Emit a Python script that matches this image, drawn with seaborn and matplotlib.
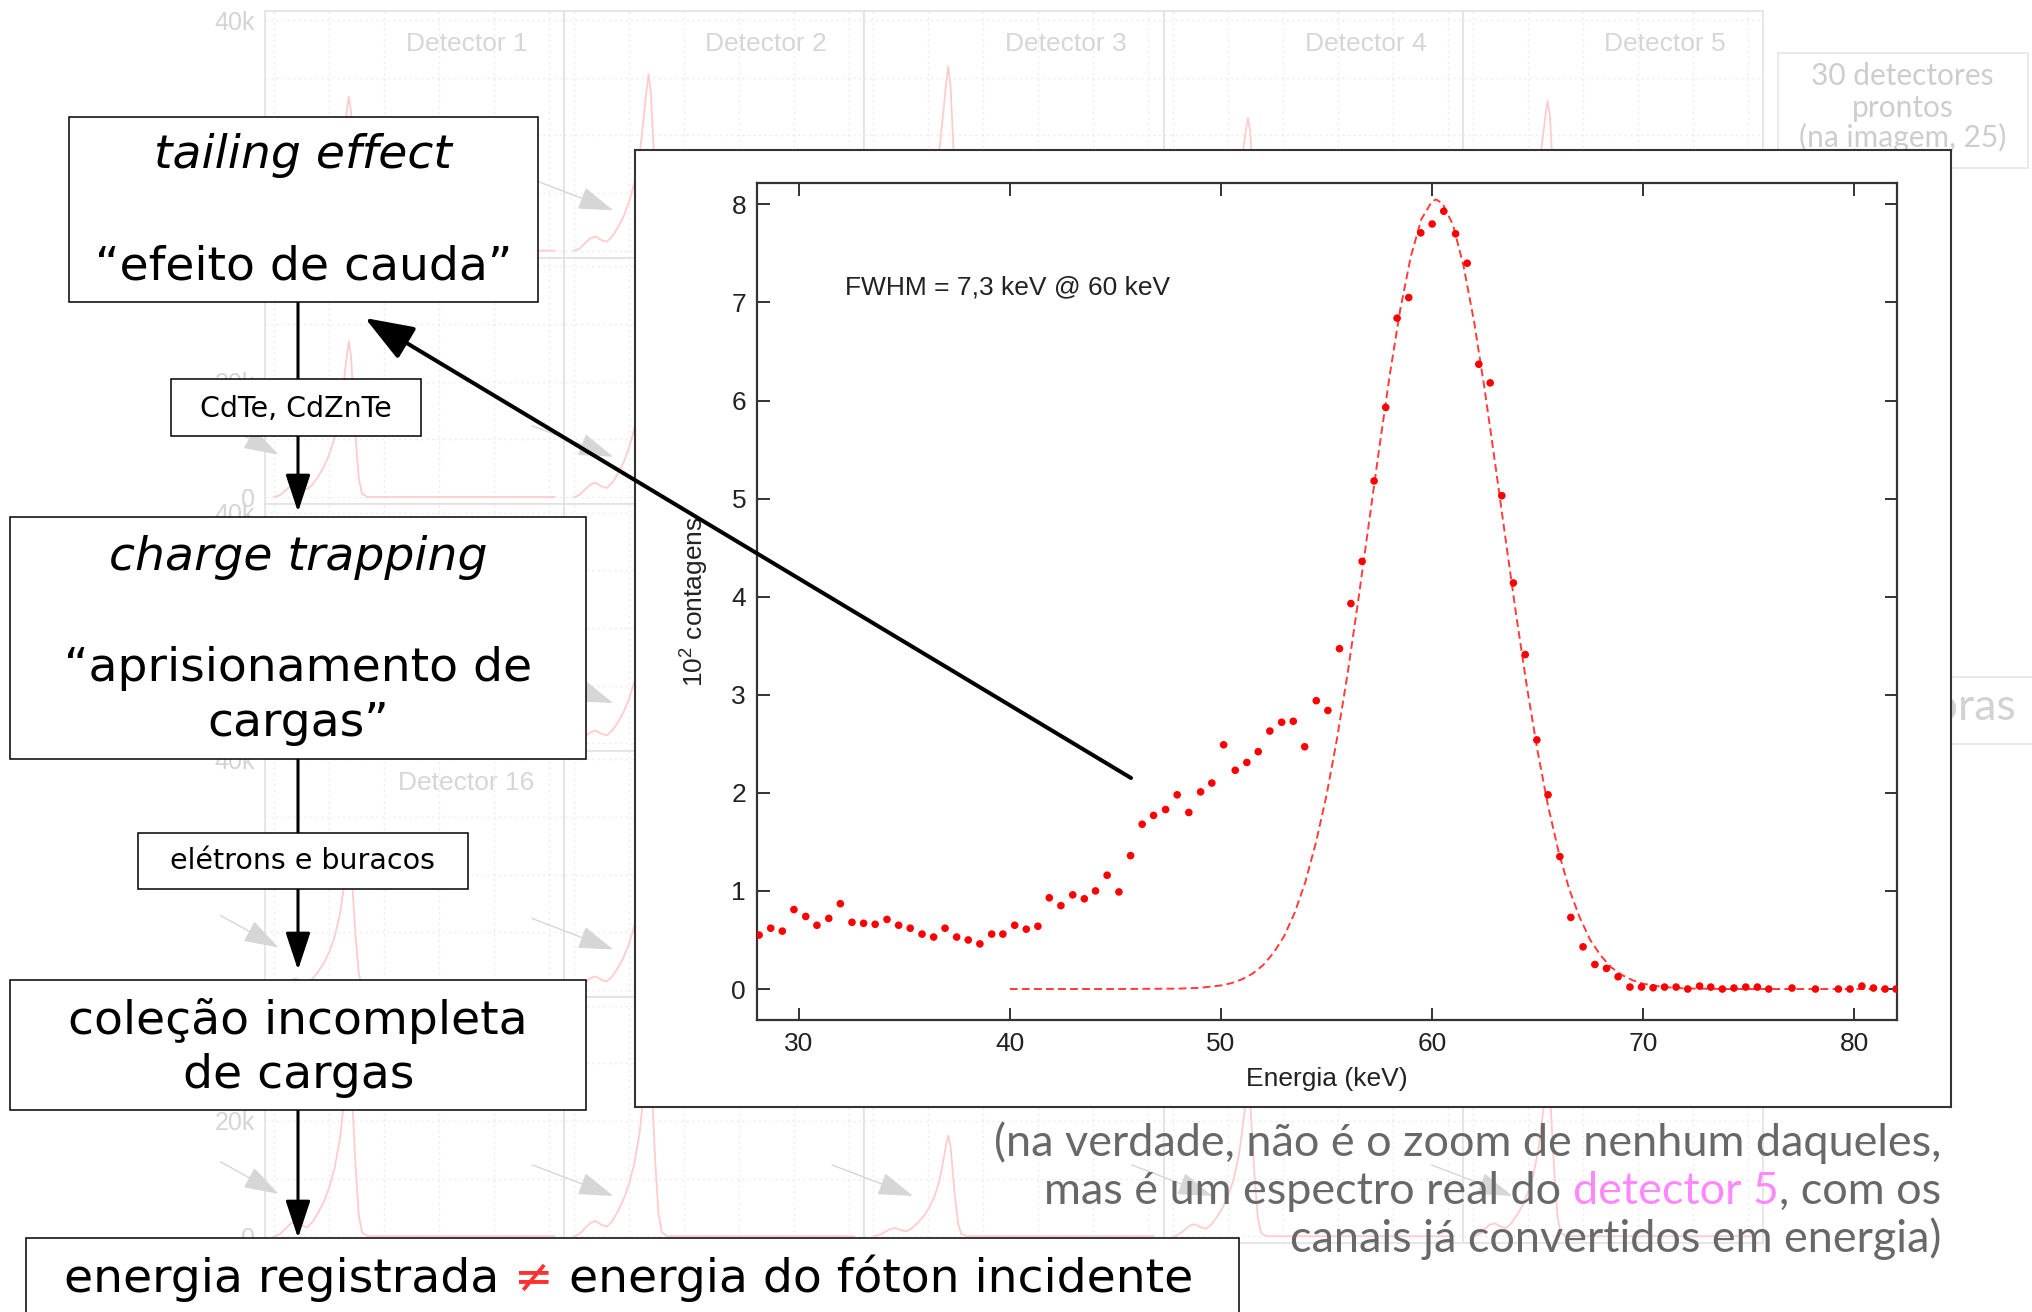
import numpy as np
import pandas as pd
import matplotlib
matplotlib.use("Agg")
import matplotlib.pyplot as plt
from matplotlib.patches import Rectangle
import seaborn as sns

# ---------------- data ----------------
energy_kev = [28.12, 28.67, 29.22, 29.77, 30.33, 30.86, 31.42, 31.97, 32.52, 33.07,
              33.62, 34.18, 34.73, 35.28, 35.84, 36.39, 36.93, 37.48, 38.03, 38.58,
              39.14, 39.67, 40.23, 40.78, 41.33, 41.87, 42.42, 42.98, 43.53, 44.06,
              44.61, 45.17, 45.72, 46.27, 46.81, 47.38, 47.93, 48.48, 49.04, 49.57,
              50.13, 50.68, 51.23, 51.77, 52.32, 52.88, 53.43, 53.97, 54.52, 55.07,
              55.62, 56.16, 56.69, 57.26, 57.81, 58.35, 58.90, 59.47, 60.01, 60.56,
              61.12, 61.67, 62.22, 62.76, 63.31, 63.86, 64.42, 64.97, 65.50, 66.06,
              66.58, 67.16, 67.72, 68.27, 68.82, 69.38, 69.93, 70.48, 71.02, 71.57,
              72.12, 72.68, 73.21, 73.76, 74.31, 74.87, 75.42, 75.96, 77.06, 78.17,
              79.26, 79.81, 80.37, 80.92, 81.47, 81.99]
counts_1e2 = [0.55, 0.62, 0.59, 0.81, 0.74, 0.65, 0.72, 0.87, 0.68, 0.67,
              0.66, 0.71, 0.65, 0.62, 0.56, 0.53, 0.62, 0.53, 0.50, 0.46,
              0.56, 0.56, 0.65, 0.61, 0.64, 0.93, 0.85, 0.96, 0.92, 1.00,
              1.16, 0.99, 1.36, 1.68, 1.77, 1.83, 1.98, 1.80, 2.01, 2.10,
              2.49, 2.23, 2.31, 2.42, 2.63, 2.72, 2.73, 2.47, 2.94, 2.84,
              3.47, 3.93, 4.36, 5.18, 5.93, 6.84, 7.05, 7.71, 7.80, 7.93,
              7.70, 7.40, 6.37, 6.18, 5.03, 4.14, 3.41, 2.54, 1.98, 1.35,
              0.73, 0.43, 0.25, 0.21, 0.125, 0.02, 0.02, 0.013, 0.02, 0.02,
              0.0, 0.03, 0.02, 0.0, 0.01, 0.02, 0.02, 0.0, 0.01, 0.0,
              0.0, 0.0, 0.03, 0.01, 0.0, 0.0]

fit_energy_kev = [40, 45, 48, 49, 50, 50.5, 51, 51.5, 52, 52.5,
                  53, 53.5, 54, 54.5, 55, 55.5, 56, 56.5, 57, 57.5,
                  58, 58.5, 59, 59.5, 60, 60.2, 60.5, 61, 61.5, 62,
                  62.5, 63, 63.5, 64, 64.5, 65, 65.5, 66, 66.5, 67,
                  67.5, 68, 68.5, 69, 69.5, 70, 71, 72, 74, 82]
fit_counts_1e2 = [0.0, 0.0, 0.004, 0.012, 0.036, 0.06, 0.099, 0.157, 0.243, 0.37,
                  0.54, 0.78, 1.09, 1.49, 1.97, 2.55, 3.21, 3.95, 4.73, 5.51,
                  6.26, 6.93, 7.47, 7.85, 8.03, 8.05, 8.01, 7.79, 7.37, 6.80,
                  6.11, 5.35, 4.57, 3.80, 3.08, 2.43, 1.87, 1.40, 1.02, 0.73,
                  0.50, 0.34, 0.22, 0.143, 0.09, 0.054, 0.019, 0.006, 0.0, 0.0]

x_ticks = [30, 40, 50, 60, 70, 80]
y_ticks = [0, 1, 2, 3, 4, 5, 6, 7, 8]
fwhm_label = "FWHM = 7,3 keV @ 60 keV"
x_label = "Energia (keV)"
y_label = r"10$^{\mathregular{2}}$ contagens"

# faded background: 25 detector spectra (shape template + peak heights in k counts)
bg_channel = [0, 5, 10, 15, 20, 25, 30, 35, 40, 45, 50, 55, 60, 63, 66, 68,
              70, 72, 74, 77, 80, 85, 255]
bg_shape = [0.0, 0.01, 0.04, 0.07, 0.08, 0.06, 0.05, 0.08, 0.13, 0.19, 0.27,
            0.38, 0.55, 0.72, 0.90, 1.0, 0.90, 0.65, 0.40, 0.12, 0.02, 0.0, 0.0]
bg_peak_k = [26.7, 30.6, 32.0, 23.0, 26.0,
             27.0, 31.0, 29.0, 24.0, 28.0,
             30.0, 28.0, 33.0, 25.0, 27.0,
             24.0, 29.0, 26.0, 30.0, 27.0,
             31.0, 33.0, 17.5, 26.0, 28.0]
detector_names = ["Detector %d" % i for i in range(1, 26)]
bg_ytick_values = [0, 10000, 20000, 30000, 40000]
bg_ytick_labels = ["0", "", "20k", "", "40k"]

note_lines = ["30 detectores", "prontos", "(na imagem, 25)"]
hidden_word = "horas"

flow_top = ["tailing effect", "\u201cefeito de cauda\u201d"]
flow_link1 = "CdTe, CdZnTe"
flow_mid = ["charge trapping", "\u201caprisionamento de", "cargas\u201d"]
flow_link2 = "el\u00e9trons e buracos"
flow_low = ["cole\u00e7\u00e3o incompleta", "de cargas"]
flow_end = ["energia registrada", "\u2260", "energia do f\u00f3ton incidente"]

caption_line1 = "(na verdade, n\u00e3o \u00e9 o zoom de nenhum daqueles,"
caption_line2 = ["mas \u00e9 um espectro real do", "detector 5", ", com os"]
caption_line3 = "canais j\u00e1 convertidos em energia)"

# ---------------- style ----------------
sns.set_style("ticks")
plt.rcParams['font.family'] = ['DejaVu Sans']
plt.rcParams['text.color'] = 'black'
plt.rcParams['mathtext.fontset'] = 'custom'
plt.rcParams['mathtext.rm'] = 'Liberation Sans'
plt.rcParams['mathtext.it'] = 'Liberation Sans:italic'

W, H = 2033, 1312
fig = plt.figure(figsize=(W / 100, H / 100), dpi=100)
fig.patch.set_facecolor('white')


def fr(x0, y0, x1, y1):
    return [x0 / W, 1 - y1 / H, (x1 - x0) / W, (y1 - y0) / H]


# ---------------- faded background panels ----------------
PW, PH = 299.7, 246.4
PX0, PY0 = 264.5, 11.3
for i in range(25):
    r, c = divmod(i, 5)
    left = PX0 + c * PW
    top = PY0 + r * PH
    pax = fig.add_axes(fr(left, top, left + PW, top + PH), zorder=0)
    sdf = pd.DataFrame({"canal": bg_channel,
                        "contagens": np.array(bg_shape) * bg_peak_k[i] * 1000})
    sns.lineplot(data=sdf, x="canal", y="contagens", ax=pax, color="#ffcccc",
                 lw=1.3, legend=False)
    pax.set_xlim(-8.7, 263.8)
    pax.set_ylim(-1230, 41510)
    pax.set_xticks([0, 50, 100, 150, 200, 250])
    pax.set_yticks(bg_ytick_values)
    pax.set_xticklabels([])
    if c == 0:
        pax.set_yticklabels(bg_ytick_labels, family='Liberation Sans',
                            fontsize=18, color='#d4d4d4')
    else:
        pax.set_yticklabels([])
    pax.tick_params(length=0, pad=7)
    pax.grid(True, color='#ececec', lw=1.0, ls=(0, (1.5, 2.5)))
    pax.set_xlabel("")
    pax.set_ylabel("")
    for sp in pax.spines.values():
        sp.set_color('#e2e2e2')
        sp.set_linewidth(1.2)
    pax.text(202 / PW, 1 - 40 / PH, detector_names[i], transform=pax.transAxes,
             ha='center', va='baseline', fontsize=19, family='Liberation Sans',
             color='#d6d6d6')

# background overlay (gray arrows, faded boxes)
bg = fig.add_axes([0, 0, 1, 1], zorder=1)
bg.set_xlim(0, W)
bg.set_ylim(H, 0)
bg.axis('off')
bg.patch.set_alpha(0)
for i in range(25):
    r, c = divmod(i, 5)
    left = PX0 + c * PW
    top = PY0 + r * PH
    if c == 0:
        tail, tip = (left - 44, top + 165), (left + 14, top + 197)
    else:
        tail, tip = (left - 32, top + 168), (left + 49, top + 199)
    bg.annotate('', xy=tip, xytext=tail,
                arrowprops=dict(arrowstyle='-|>,head_length=1.1,head_width=0.36',
                                mutation_scale=20, lw=1.0, color='#d6d6d6',
                                shrinkA=0, shrinkB=0))

bg.add_patch(Rectangle((1777.6, 52.7), 250.4, 115.3, facecolor='white',
                       edgecolor='#e6e6e6', lw=1.2))
for txt, yb in zip(note_lines, [85, 116.7, 146.7]):
    bg.text(1902.7, yb, txt, ha='center', va='baseline', fontsize=21.5,
            family='Lato', color='#cdcdcd')
bg.add_patch(Rectangle((1870, 677), 200, 67, facecolor='white',
                       edgecolor='#e6e6e6', lw=1.2))
bg.text(2017, 720.5, hidden_word, ha='right', va='baseline', fontsize=32,
        family='Lato', color='#d2d2d2')

# ---------------- inset frame ----------------
frame = fig.add_axes(fr(635.3, 150.4, 1951.4, 1107.3), zorder=2)
frame.set_facecolor('white')
frame.set_xticks([])
frame.set_yticks([])
for sp in frame.spines.values():
    sp.set_color('#333333')
    sp.set_linewidth(1.5)

# ---------------- spectrum ----------------
ax = fig.add_axes(fr(757.2, 182.8, 1896.9, 1020.4), zorder=3)
ax.set_facecolor('white')
df = pd.DataFrame({"Energia": energy_kev, "Contagens": counts_1e2})
fit_df = pd.DataFrame({"Energia": fit_energy_kev, "Contagens": fit_counts_1e2})
sns.lineplot(data=fit_df, x="Energia", y="Contagens", ax=ax, color="#ff3b3b",
             lw=1.4, legend=False, zorder=2)
ax.lines[-1].set_dashes([4, 2.2])
sns.scatterplot(data=df, x="Energia", y="Contagens", ax=ax, color="#ff0000",
                s=30, edgecolor="none", linewidth=0, legend=False, zorder=3)
ax.set_xlim(28.03, 82.03)
ax.set_ylim(-0.32, 8.22)
ax.set_xticks(x_ticks)
ax.set_yticks(y_ticks)
ax.tick_params(direction='in', length=9, width=1.4, color='#333333',
               labelcolor='#222222', top=True, right=True, labelsize=19, pad=8)
for lab in ax.get_xticklabels() + ax.get_yticklabels():
    lab.set_family('Liberation Sans')
for sp in ax.spines.values():
    sp.set_color('#333333')
    sp.set_linewidth(1.6)
ax.set_xlabel(x_label, fontsize=19, family='Liberation Sans', color='#222222',
              labelpad=8)
ax.set_ylabel(y_label, fontsize=19, family='Liberation Sans', color='#222222',
              labelpad=15)
ax.text(32.17, 7.08, fwhm_label, fontsize=19, family='Liberation Sans',
        color='#222222', va='baseline', ha='left')

# ---------------- front overlay: flowchart, caption, arrow ----------------
ov = fig.add_axes([0, 0, 1, 1], zorder=5)
ov.set_xlim(0, W)
ov.set_ylim(H, 0)
ov.axis('off')
ov.patch.set_alpha(0)

AX = 298
head = '-|>,head_length=1.15,head_width=0.38'
for y0, y1 in [(302, 512), (758.5, 970), (1110, 1238)]:
    ov.annotate('', xy=(AX, y1), xytext=(AX, y0),
                arrowprops=dict(arrowstyle=head, mutation_scale=20, lw=2.2,
                                color='black', shrinkA=0, shrinkB=0), zorder=1)


def box(x0, y0, x1, y1, lw=1.1):
    ov.add_patch(Rectangle((x0, y0), x1 - x0, y1 - y0, facecolor='white',
                           edgecolor='black', lw=lw, zorder=2))


BIG = 34
box(68.7, 116.7, 538, 302)
ov.text(303.4, 168, flow_top[0], ha='center', va='baseline', fontsize=BIG,
        style='italic', color='black', zorder=3)
ov.text(303.4, 280, flow_top[1], ha='center', va='baseline', fontsize=BIG,
        color='black', zorder=3)

box(171, 379, 421, 435.7)
ov.text(296, 416.7, flow_link1, ha='center', va='baseline', fontsize=20.5,
        color='black', zorder=3)

box(10.4, 517.3, 586, 758.5)
ov.text(298.2, 570, flow_mid[0], ha='center', va='baseline', fontsize=BIG,
        style='italic', color='black', zorder=3)
ov.text(298.2, 681.3, flow_mid[1], ha='center', va='baseline', fontsize=BIG,
        color='black', zorder=3)
ov.text(298.2, 735.7, flow_mid[2], ha='center', va='baseline', fontsize=BIG,
        color='black', zorder=3)

box(137.8, 833, 467.7, 889)
ov.text(302.7, 868.8, flow_link2, ha='center', va='baseline', fontsize=20.5,
        color='black', zorder=3)

box(10.4, 980, 586, 1110)
ov.text(298.2, 1033.5, flow_low[0], ha='center', va='baseline', fontsize=BIG,
        color='black', zorder=3)
ov.text(298.2, 1088, flow_low[1], ha='center', va='baseline', fontsize=BIG,
        color='black', zorder=3)

box(26, 1238, 1239.5, 1340)

renderer = fig.canvas.get_renderer()


def space_px(size, family):
    a = ov.text(0, 0, "a a", fontsize=size, family=family)
    b = ov.text(0, 0, "aa", fontsize=size, family=family)
    wa = a.get_window_extent(renderer).width
    wb = b.get_window_extent(renderer).width
    a.remove()
    b.remove()
    return wa - wb


sp_big = space_px(BIG, 'DejaVu Sans')
neq = ov.text(534, 1291.7, flow_end[1], ha='center', va='baseline', fontsize=BIG,
              color='#ff3030', zorder=3)
ov.annotate(flow_end[0], xy=(0, 0), xycoords=neq, xytext=(-sp_big, 0),
            textcoords='offset pixels', ha='right', va='bottom', fontsize=BIG,
            color='black', zorder=3)
ov.annotate(flow_end[2], xy=(1, 0), xycoords=neq, xytext=(sp_big, 0),
            textcoords='offset pixels', ha='left', va='bottom', fontsize=BIG,
            color='black', zorder=3)

# caption
CAP = 32.4
CAPC = '#686868'
RX = 1941
ov.text(RX, 1155.8, caption_line1, ha='right', va='baseline', fontsize=CAP,
        family='Lato', color=CAPC)
sp_cap = space_px(CAP, 'Lato')
t3 = ov.text(RX, 1203.5, caption_line2[2], ha='right', va='baseline',
             fontsize=CAP, family='Lato', color=CAPC)
t2 = ov.annotate(caption_line2[1], xy=(0, 0), xycoords=t3, ha='right',
                 va='bottom', fontsize=CAP, family='Lato', color='#ff88ff')
ov.annotate(caption_line2[0], xy=(0, 0), xycoords=t2, xytext=(-sp_cap, 0),
            textcoords='offset pixels', ha='right', va='bottom', fontsize=CAP,
            family='Lato', color=CAPC)
ov.text(RX, 1252, caption_line3, ha='right', va='baseline', fontsize=CAP,
        family='Lato', color=CAPC)

# big black arrow (points from the tail region to the first box)
ov.annotate('', xy=(365, 318), xytext=(1131, 778),
            arrowprops=dict(arrowstyle='-|>,head_length=1.2,head_width=0.45',
                            mutation_scale=25, lw=2.9, color='black',
                            shrinkA=0, shrinkB=0), zorder=10)

fig.savefig("out.png", dpi=100, facecolor='white')
